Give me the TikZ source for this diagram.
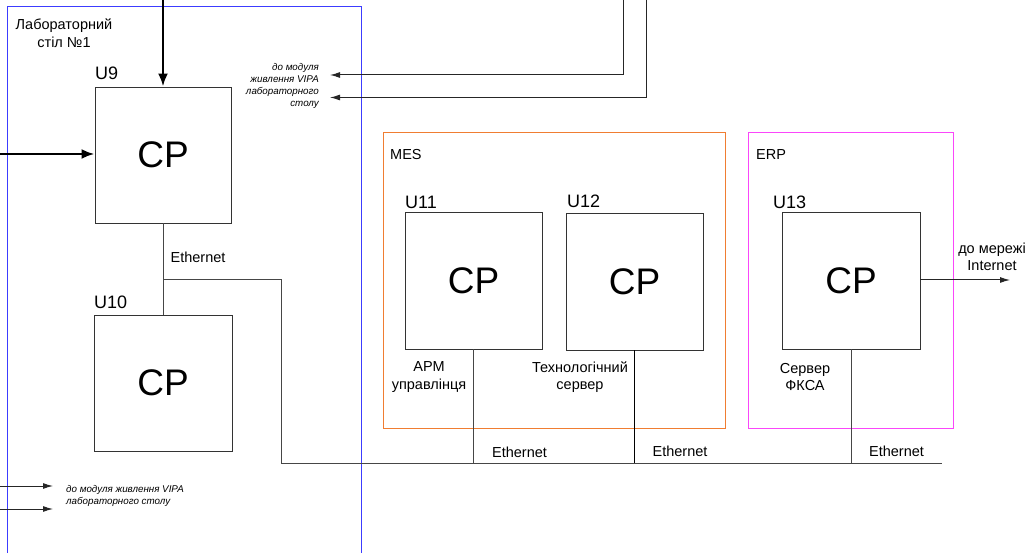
\documentclass[tikz,border=0pt]{standalone}
\usepackage{fontspec}
\setmainfont{Liberation Sans}
\usetikzlibrary{arrows.meta}
\definecolor{bluefr}{RGB}{60,60,255}
\definecolor{orfr}{RGB}{240,125,50}
\definecolor{magfr}{RGB}{250,70,250}
\definecolor{wire}{RGB}{70,70,70}
\tikzset{
  cpbox/.style={draw=black!80, line width=0.9pt, minimum width=136pt, minimum height=136pt, inner sep=0pt, font=\fontsize{37}{40}\selectfont},
  ulabel/.style={anchor=west, inner sep=0pt, font=\fontsize{18}{20}\selectfont},
  txt/.style={inner sep=0pt, align=center, font=\fontsize{14.5}{17.5}\selectfont},
  small/.style={inner sep=0pt, font=\fontsize{9.8}{11.8}\selectfont\itshape},
  frame/.style={line width=1pt},
  wireln/.style={draw=wire, line width=1pt},
  thin arrow/.style={draw=black!85, line width=1pt, -{Latex[length=10pt,width=6pt]}},
  thick arrow/.style={draw=black, line width=2.6pt, -{Latex[length=13pt,width=10pt]}}
}
\begin{document}
\begin{tikzpicture}[x=1pt,y=-1pt]
\useasboundingbox (0,0) rectangle (1036,553);
% frames
\draw[frame, bluefr] (7,560) -- (7,6.5) -- (361,6.5) -- (361,560);
\draw[frame, orfr] (383,133) rectangle (725,428);
\draw[frame, magfr] (748,133) rectangle (953,428);
\node[txt] (lab) at (64,33) {Лабораторний\\стіл №1};
\node[txt, anchor=west] (mes) at (390,155) {MES};
\node[txt, anchor=west] (erp) at (756,155) {ERP};
% CP boxes
\node[cpbox] (u9) at (163,155) {CP};
\node[cpbox, minimum width=138pt] (u10) at (163,383) {CP};
\node[cpbox, minimum width=137pt, minimum height=137pt] (u11) at (473.5,280.5) {CP};
\node[cpbox, minimum width=137pt, minimum height=137pt] (u12) at (634.5,281.5) {CP};
\node[cpbox, minimum width=138pt, minimum height=137pt] (u13) at (851,280.5) {CP};
\node[ulabel] (lu9) at (95,73) {U9};
\node[ulabel] (lu10) at (94,302) {U10};
\node[ulabel] (lu11) at (405,202) {U11};
\node[ulabel] (lu12) at (567,201) {U12};
\node[ulabel] (lu13) at (773,202) {U13};
% thick inputs
\coordinate (in1) at (163,0);
\coordinate (in2) at (0,154);
\draw[thick arrow] (in1) -- (u9.north);
\draw[thick arrow] (in2) -- (in2 -| u9.west);
% feedback to VIPA (top)
\coordinate (t1) at (623,0);
\coordinate (t1e) at (330,75);
\coordinate (t2) at (646,0);
\coordinate (t2e) at (330,97.5);
\draw[thin arrow] (t1) |- (t1e);
\draw[thin arrow] (t2) |- (t2e);
\node[small, anchor=east, align=right] (vipa1) at (319,86) {до модуля\\живлення VIPA\\лабораторного\\столу};
% bottom arrows
\coordinate (b1) at (0,486);
\coordinate (b1e) at (53,486);
\coordinate (b2) at (0,509);
\coordinate (b2e) at (53,509);
\draw[thin arrow] (b1) -- (b1e);
\draw[thin arrow] (b2) -- (b2e);
\node[small, anchor=west, align=left] (vipa2) at (66,496) {до модуля живлення VIPA\\лабораторного столу};
% Ethernet
\coordinate (j1) at (163,280);
\coordinate (c1) at (281,280);
\coordinate (c2) at (281,463);
\coordinate (eend) at (942,463);
\draw[wireln] (u9.south) -- (u10.north);
\draw[wireln] (j1) -- (c1) -- (c2) -- (eend);
\draw[wireln] (u11.south) -- (u11.south |- c2);
\draw[wireln, draw=black] (u12.south) -- (u12.south |- c2);
\draw[wireln] (u13.south) -- (u13.south |- c2);
\node[txt] (eth0) at (198,257) {Ethernet};
\node[txt] (eth1) at (519.5,452) {Ethernet};
\node[txt] (eth2) at (680,451) {Ethernet};
\node[txt] (eth3) at (896.5,451) {Ethernet};
% captions
\node[txt] (arm) at (429,377) {АРМ\\управлінця};
\node[txt] (tech) at (580,377) {Технологічний\\сервер};
\node[txt] (fksa) at (805,377) {Сервер\\ФКСА};
% internet
\coordinate (net) at (1010,280);
\draw[thin arrow] (u13.east |- net) -- (net);
\node[txt] (inet) at (992,257) {до мережі\\Internet};
\end{tikzpicture}
\end{document}
